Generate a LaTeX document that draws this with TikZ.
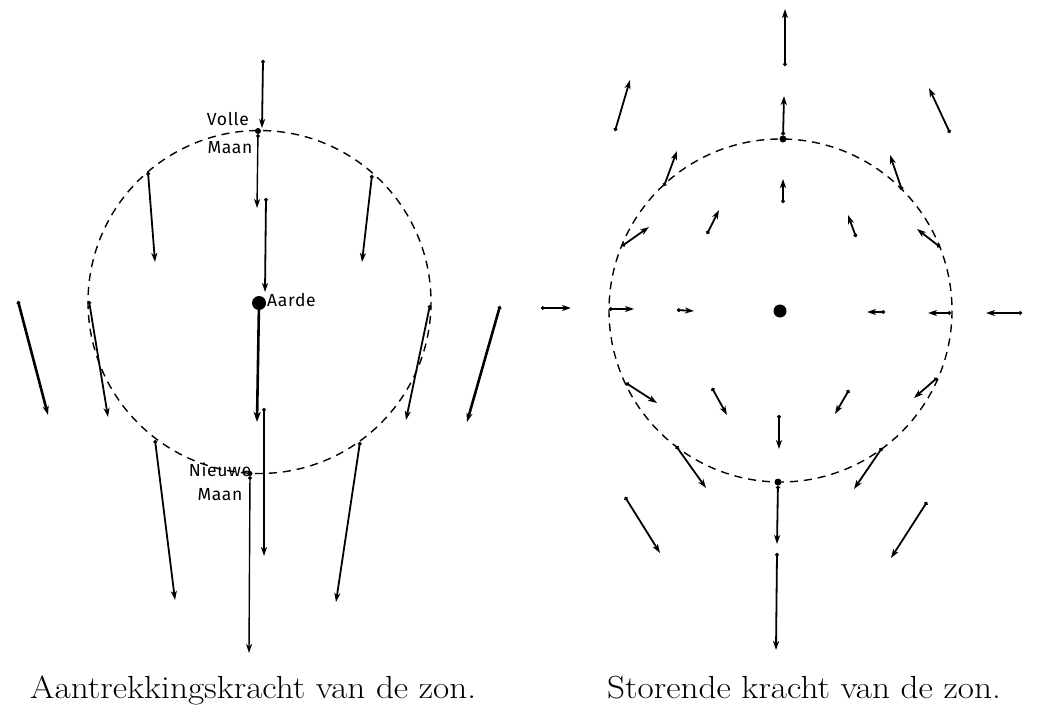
\documentclass[tikz,border=0pt]{standalone}
\usepackage{fontspec}
\newfontfamily\handfont{Fira Sans}[LetterSpace=4]
\usetikzlibrary{arrows.meta}
\tikzset{
  vec/.style={line width=1.8pt,{Circle[length=3.6pt]}-{Stealth[length=9pt,width=6pt,inset=2.5pt]}},
  thinvec/.style={vec,line width=1.4pt},
  thickvec/.style={vec,line width=2.6pt},
  orbit/.style={line width=1.4pt,dash pattern=on 8pt off 6pt},
  dotnode/.style={circle,fill=black,inner sep=0pt,minimum size=#1},
  hand/.style={font=\handfont\fontsize{17.5}{20}\selectfont,inner sep=0pt},
  caption/.style={font=\addfontfeatures{LetterSpace=8}\fontsize{32}{35}\selectfont,inner sep=0pt}
}
\newcommand\vecarrow[4][vec]{%
  \coordinate (#2s) at (#3); \coordinate (#2e) at (#4);
  \draw[#1] (#2s) -- (#2e);}
\newcommand\capwide[1]{\scalebox{1.10}[1]{#1}}
\begin{document}
\begin{tikzpicture}[x=1pt,y=-1pt]
\useasboundingbox (0,0) rectangle (1044,712);
% ---------------- left diagram ----------------
\coordinate (lc) at (259.5,302);
\draw[orbit] (lc) circle[radius=171.5];
\node[dotnode=6pt] (vm) at (258,131) {};
\node[dotnode=5pt] (nm) at (250,473.5) {};
\node[dotnode=14pt] (aarde) at (259,303) {};
\node[hand] (lvolle) at (228,119) {Volle};
\node[hand] (lmaan1) at (230,148) {Maan};
\node[hand,anchor=west] (laarde) at (267,300) {Aarde};
\node[hand] (lnieuwe) at (220,470) {Nieuwe};
\node[hand] (lmaan2) at (220,495) {Maan};
\vecarrow{L1}{263,60}{262,128}
\coordinate (L2e) at (257,208);
\draw[thinvec] (vm) -- (L2e);
\vecarrow{L3}{266,198}{265,292}
\coordinate (L4e) at (257,422);
\draw[thickvec,-{Stealth[length=10pt,width=7pt,inset=2.5pt]}] (aarde) -- (L4e);
\vecarrow[thinvec]{L5}{264,408}{264,556}
\coordinate (L6e) at (249,653);
\draw[thinvec] (nm) -- (L6e);
\vecarrow{L7}{148,172}{155,262}
\vecarrow{L8}{372,175}{362,262}
\vecarrow[thickvec]{L9}{18,301}{48,415}
\vecarrow{L10}{89,301}{108,417}
\vecarrow{L11}{430,305}{406,420}
\vecarrow[thickvec]{L12}{500,306}{467,422}
\vecarrow{L13}{155,440}{175,600}
\vecarrow{L14}{360,442}{336,602}
% ---------------- right diagram ----------------
\coordinate (rc) at (780.5,310.5);
\draw[orbit] (rc) circle[radius=171.5];
\node[dotnode=7pt] (rt) at (783,139) {};
\node[dotnode=7pt] (rb) at (778,482) {};
\node[dotnode=13pt] (zaarde) at (780,311) {};
\vecarrow{R1}{785,66}{785,9}
\coordinate (R2e) at (784,96);
\draw[vec] (rt) -- (R2e);
\vecarrow{R3}{783,203}{783,179}
\vecarrow{R4}{615,131}{630,80}
\vecarrow{R5}{950,133}{929,88}
\vecarrow{R6}{664,186}{677,151}
\vecarrow{R7}{902,190}{890,155}
\vecarrow{R8}{622,246}{649,227}
\vecarrow{R9}{940,247}{917,229}
\vecarrow{R10}{707,234}{719,210}
\vecarrow{R11}{856,237}{848,215}
\vecarrow{R12}{541,308}{571,308}
\vecarrow{R13}{609,309}{634,309}
\vecarrow{R14}{677,310}{694,311}
\vecarrow{R15}{885,312}{867,312}
\vecarrow{R16}{951,313}{928,313}
\vecarrow{R17}{1022,313}{986,313}
\vecarrow{R18}{626,383}{657,403}
\vecarrow{R19}{937,378}{914,398}
\vecarrow{R20}{712,388}{727,415}
\vecarrow{R21}{849,390}{835,414}
\vecarrow{R22}{779,415}{779,449}
\vecarrow{R23}{676,446}{706,488}
\vecarrow{R24}{882,448}{854,489}
\coordinate (R25e) at (777,544);
\draw[vec] (rb) -- (R25e);
\vecarrow{R26}{777,553}{776,650}
\vecarrow{R27}{625,497}{660,553}
\vecarrow{R28}{927,502}{891,558}
% ---------------- captions ----------------
\node[caption,anchor=base west] (capl) at (30,698) {\capwide{Aantrekkingskracht van de zon.}};
\node[caption,anchor=base west] (capr) at (607,698) {\capwide{Storende kracht van de zon.}};
\end{tikzpicture}
\end{document}
